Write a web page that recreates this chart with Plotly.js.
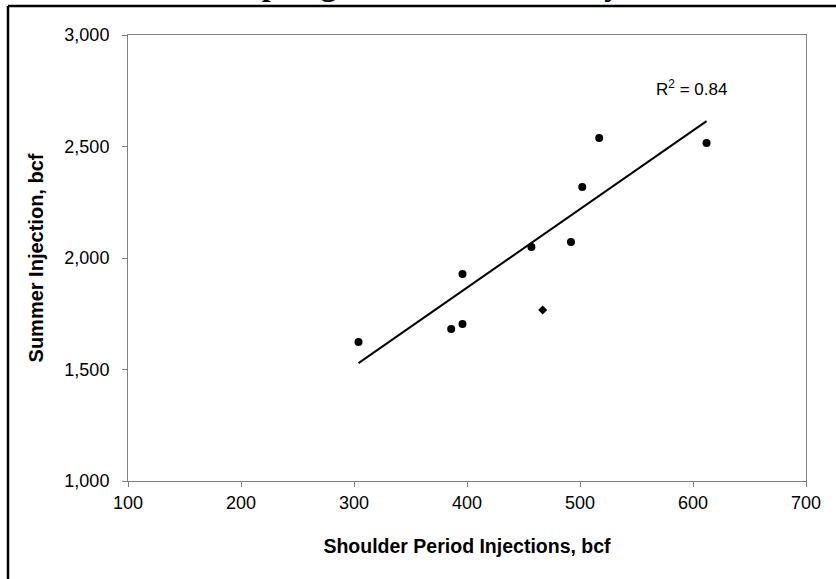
<!DOCTYPE html>
<html>
<head>
<meta charset="utf-8">
<script src="https://cdn.plot.ly/plotly-3.0.1.min.js"></script>
<style>
html,body{margin:0;padding:0;background:#fff;overflow:hidden;}
#chart{width:836px;height:579px;}
</style>
</head>
<body>
<div id="chart"></div>
<script>
// Historical years (circles)
const shoulderX = [304, 386, 396, 396, 457, 492, 502, 517, 612];
const summerY   = [1623, 1682, 1704, 1928, 2049, 2072, 2318, 2538, 2516];
// Highlighted year (diamond)
const currentX = [467];
const currentY = [1767];
const r2Label = "R<sup>2</sup> = 0.84";
const titleText = "Spring vs. Summer Activity";
const xTitle = "Shoulder Period Injections, bcf";
const yTitle = "Summer Injection, bcf";

// least-squares trendline from the circle series
const n = shoulderX.length;
const mx = shoulderX.reduce((a,b)=>a+b,0)/n;
const my = summerY.reduce((a,b)=>a+b,0)/n;
let sxy=0, sxx=0;
for(let i=0;i<n;i++){sxy+=(shoulderX[i]-mx)*(summerY[i]-my);sxx+=(shoulderX[i]-mx)**2;}
const slope = sxy/sxx, icpt = my - slope*mx;
const xmin = Math.min(...shoulderX), xmax = Math.max(...shoulderX);
const trendX = [xmin, xmax];
const trendY = trendX.map(x=>icpt+slope*x);

const L=128, R=30, T=35, B=98, W=836, H=579;
const pw = W-L-R, ph = H-T-B;
const px = p => (p-L)/pw;
const py = p => (H-B-p)/ph;

const FONT = 'Liberation Sans, Arial, sans-serif';

const traces = [
  {x: trendX, y: trendY, mode:'lines', line:{color:'#000', width:2}, hoverinfo:'skip'},
  {x: shoulderX, y: summerY, mode:'markers', marker:{symbol:'circle', size:8, color:'#000'}},
  {x: currentX, y: currentY, mode:'markers', marker:{symbol:'diamond', size:7, color:'#000'}}
];

const axisCommon = {
  showline:true, linecolor:'#808080', linewidth:1, mirror:true,
  ticks:'outside', ticklen:5, tickcolor:'#808080', tickwidth:1,
  showgrid:false, zeroline:false,
  tickfont:{family:FONT, size:18, color:'#000'}
};

const layout = {
  width:W, height:H,
  margin:{l:L, r:R, t:T, b:B, pad:0},
  paper_bgcolor:'#fff', plot_bgcolor:'#fff',
  showlegend:false,
  xaxis: Object.assign({}, axisCommon, {
    range:[100,700], dtick:100, tick0:100, ticklabelstandoff:0,
    title:{text:xTitle, standoff:27, font:{family:FONT, size:19.5, color:'#000', weight:'bold'}}
  }),
  yaxis: Object.assign({}, axisCommon, {
    range:[1000,3000], dtick:500, tick0:1000, tickformat:',d', ticklabelstandoff:9,
    title:{text:yTitle, standoff:15, font:{family:FONT, size:20, color:'#000', weight:'bold'}}
  }),
  annotations:[
    {x:599, y:2762, xref:'x', yref:'y', text:r2Label, showarrow:false,
     font:{family:FONT, size:17, color:'#000'}},
    {x:px(242), y:py(3.5), xref:'paper', yref:'paper', xanchor:'left', yanchor:'bottom',
     text:'<b>'+titleText+'</b>', showarrow:false,
     font:{family:'Liberation Serif, Times New Roman, serif', size:32, color:'#000'}}
  ],
  shapes:[
    {type:'line', xref:'paper', yref:'paper', x0:px(8), x1:px(8), y0:py(6), y1:py(600), line:{color:'#000', width:2.5}},
    {type:'line', xref:'paper', yref:'paper', x0:px(8), x1:px(900), y0:py(6), y1:py(6), line:{color:'#000', width:2.5}}
  ]
};

Plotly.newPlot('chart', traces, layout, {staticPlot:true, displayModeBar:false});
</script>
</body>
</html>
